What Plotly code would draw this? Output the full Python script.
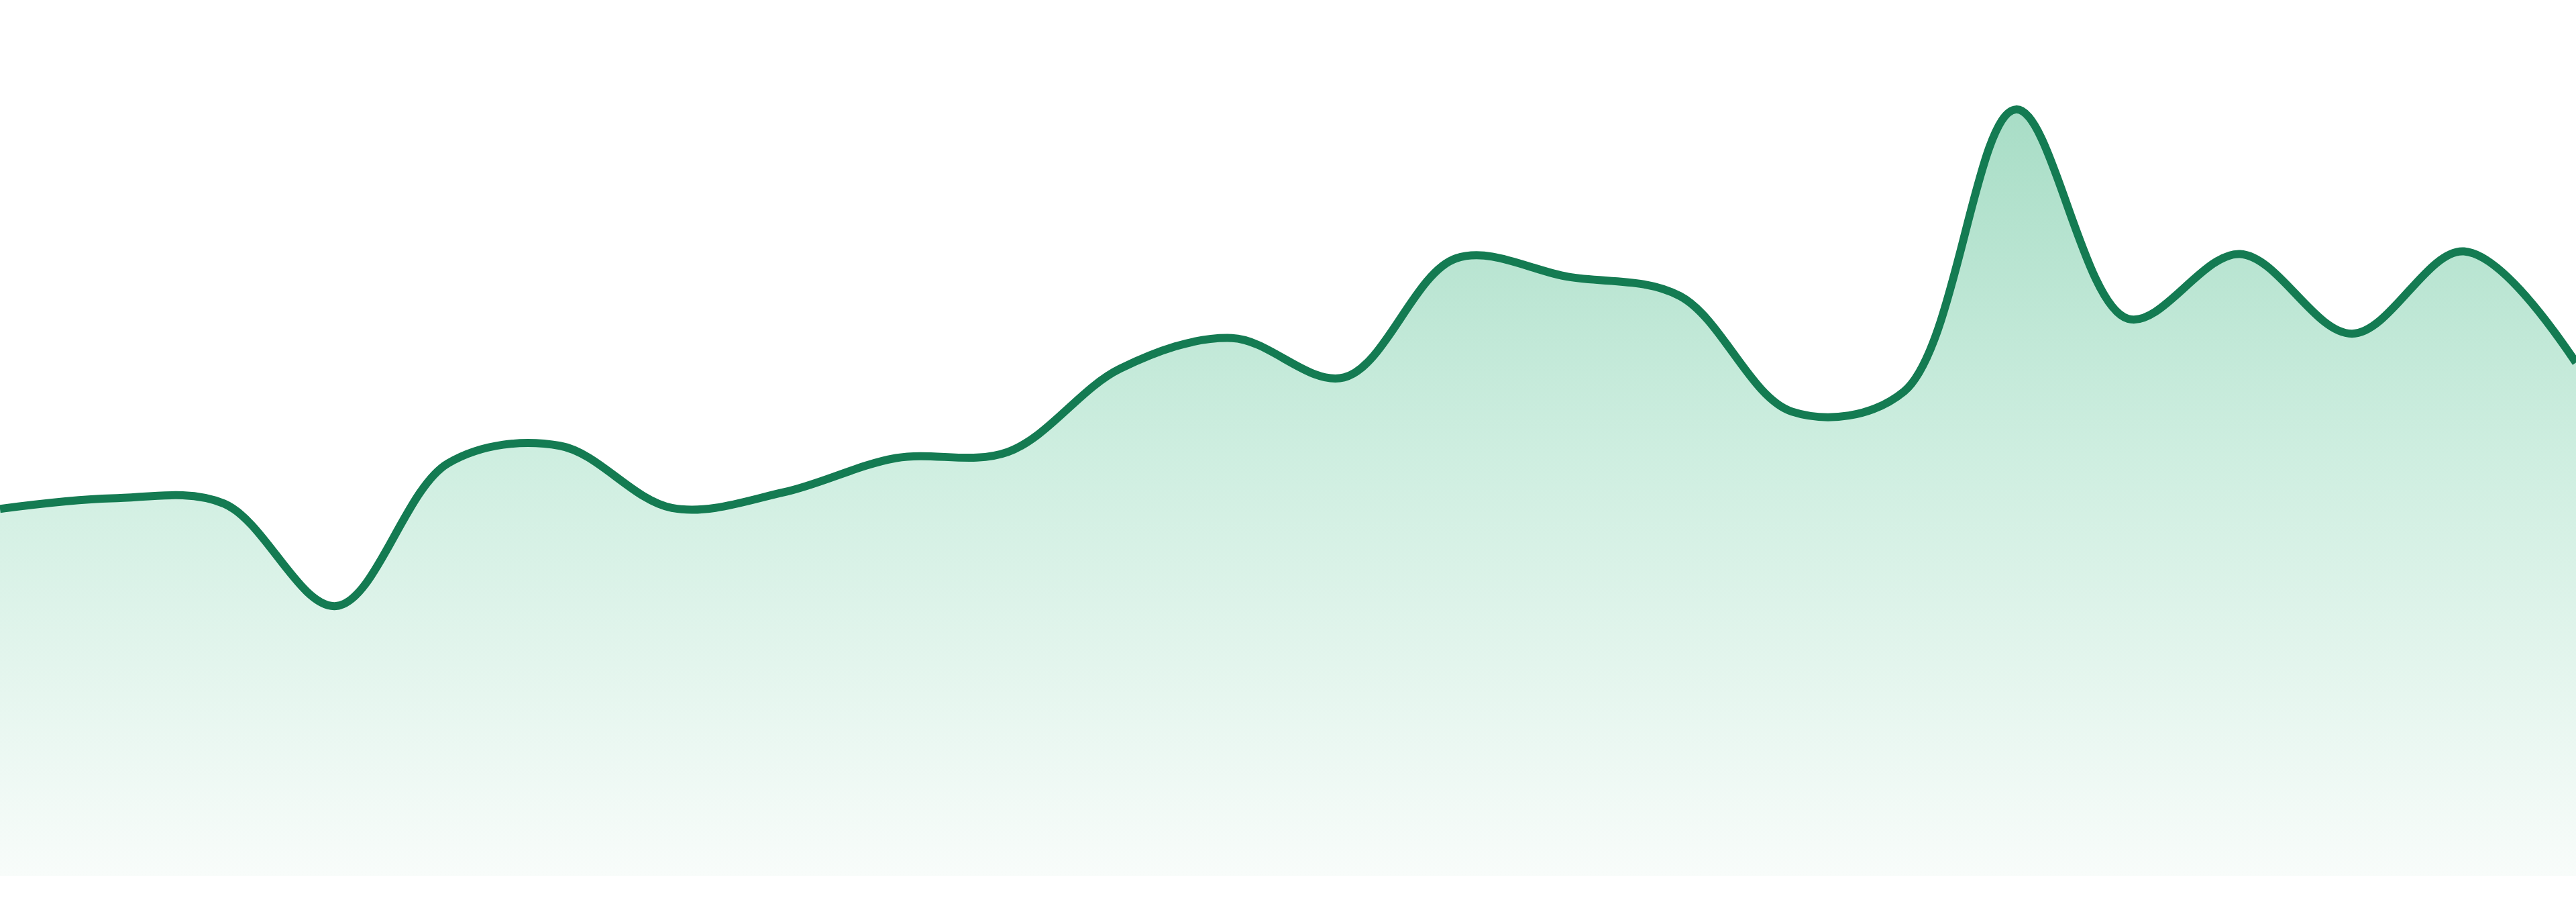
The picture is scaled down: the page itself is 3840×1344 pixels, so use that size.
import plotly.graph_objects as go

# one value per step (no axis labels shown)
steps = list(range(24))
values = [41.9, 43.1, 42.5, 30.8, 47.1, 49.1, 42.0, 43.8, 47.7, 48.4, 57.9, 61.4,
          56.9, 70.5, 68.4, 66.2, 53.0, 55.3, 87.5, 63.6, 71.0, 61.9, 71.3, 58.6]

LINE = "#147b52"

fig = go.Figure()
fig.add_trace(go.Scatter(
    x=steps, y=values,
    mode="lines",
    line=dict(color=LINE, width=12, shape="spline", smoothing=1),
    fill="tozeroy",
    fillgradient=dict(
        type="vertical",
        start=0, stop=max(values),
        colorscale=[[0, "rgb(248,252,250)"], [0.55, "rgb(206,238,224)"], [1, "rgb(168,221,198)"]],
    ),
    hoverinfo="skip",
    showlegend=False,
))

fig.update_layout(
    width=3840, height=1344,
    margin=dict(l=0, r=0, t=0, b=39),
    paper_bgcolor="white", plot_bgcolor="white",
    xaxis=dict(range=[0, 23], visible=False, fixedrange=True),
    yaxis=dict(range=[0, 100], visible=False, fixedrange=True),
)

# drop the default page margin so the chart sits flush in the window
fig.write_html("out.html", config={"displayModeBar": False},
               post_script="document.body.style.margin='0';")
